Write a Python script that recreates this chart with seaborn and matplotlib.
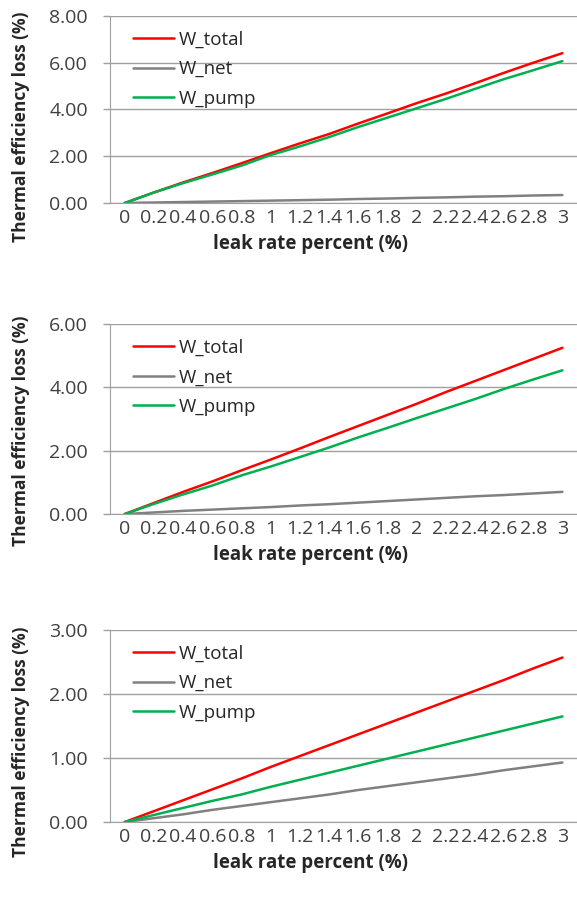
import numpy as np
import pandas as pd
import matplotlib
matplotlib.use("Agg")
import matplotlib.pyplot as plt
import seaborn as sns

leak_rate = ["0", "0.2", "0.4", "0.6", "0.8", "1", "1.2", "1.4", "1.6", "1.8",
             "2", "2.2", "2.4", "2.6", "2.8", "3"]

# panel 1
total_1 = [0, 0.45, 0.88, 1.28, 1.70, 2.13, 2.55, 2.95, 3.40, 3.83, 4.27, 4.68, 5.12, 5.57, 6.00, 6.41]
net_1 = [0, 0.02, 0.04, 0.06, 0.08, 0.10, 0.12, 0.14, 0.17, 0.19, 0.22, 0.24, 0.27, 0.29, 0.32, 0.34]
pump_1 = [0, 0.45, 0.85, 1.22, 1.60, 2.05, 2.42, 2.82, 3.25, 3.65, 4.05, 4.45, 4.88, 5.30, 5.68, 6.07]

# panel 2
total_2 = [0, 0.35, 0.70, 1.03, 1.38, 1.72, 2.07, 2.43, 2.78, 3.13, 3.48, 3.85, 4.20, 4.55, 4.90, 5.25]
net_2 = [0, 0.05, 0.10, 0.14, 0.18, 0.22, 0.27, 0.31, 0.36, 0.41, 0.46, 0.51, 0.56, 0.60, 0.65, 0.70]
pump_2 = [0, 0.32, 0.62, 0.90, 1.22, 1.50, 1.80, 2.10, 2.42, 2.72, 3.03, 3.33, 3.63, 3.95, 4.25, 4.54]

# panel 3
total_3 = [0, 0.17, 0.34, 0.51, 0.68, 0.86, 1.03, 1.20, 1.37, 1.54, 1.71, 1.88, 2.05, 2.22, 2.40, 2.57]
net_3 = [0, 0.06, 0.12, 0.19, 0.25, 0.31, 0.37, 0.43, 0.50, 0.56, 0.62, 0.68, 0.74, 0.81, 0.87, 0.93]
pump_3 = [0, 0.11, 0.22, 0.33, 0.43, 0.55, 0.66, 0.77, 0.88, 0.99, 1.10, 1.21, 1.32, 1.43, 1.54, 1.65]

panels = [
    (total_1, net_1, pump_1, [0, 2, 4, 6, 8]),
    (total_2, net_2, pump_2, [0, 2, 4, 6]),
    (total_3, net_3, pump_3, [0, 1, 2, 3]),
]

series_names = ["W_total", "W_net", "W_pump"]
palette = {"W_total": "#FF0000", "W_net": "#808080", "W_pump": "#00B050"}

sns.set_style("white")
plt.rcParams['font.family'] = ['Open Sans', 'DejaVu Sans']

fig = plt.figure(figsize=(5.77, 9.09), dpi=100)

# [left, bottom, width, height] in figure fraction, plus y position of the y label
boxes = [
    ([0.191, 0.7767, 0.809, 0.2057], 0.41),
    ([0.191, 0.4345, 0.809, 0.2090], 0.44),
    ([0.191, 0.0957, 0.809, 0.2112], 0.42),
]

for (box, ylab_y), (tot, net, pump, yticks) in zip(boxes, panels):
    ax = fig.add_axes(box)
    df = pd.DataFrame({
        "x": list(range(len(leak_rate))) * 3,
        "value": tot + net + pump,
        "series": [s for s in series_names for _ in leak_rate],
    })
    sns.lineplot(data=df, x="x", y="value", hue="series", palette=palette,
                 hue_order=series_names, linewidth=1.8, ax=ax)
    ax.set_xlim(-0.5, len(leak_rate) - 0.5)
    ax.set_ylim(yticks[0], yticks[-1])
    ax.set_yticks(yticks)
    ax.set_yticklabels([f"{t:.2f}" for t in yticks], fontsize=14, color='#404040')
    ax.set_xticks(range(len(leak_rate)))
    ax.set_xticklabels(leak_rate, fontsize=14, color='#404040')
    ax.tick_params(axis='x', length=0, pad=4)
    ax.tick_params(axis='y', length=5, color='#A0A0A0', width=1, pad=11, direction='out', left=True)
    ax.grid(axis='y', color='#A0A0A0', linewidth=1)
    ax.set_axisbelow(True)
    for side in ['top', 'right']:
        ax.spines[side].set_visible(False)
    ax.spines['left'].set_color('#A0A0A0')
    ax.spines['bottom'].set_color('#A0A0A0')
    ax.set_xlabel("leak rate percent (%)", fontsize=13.5, fontweight='bold')
    ax.set_ylabel("Thermal efficiency loss (%)", fontsize=12.5, fontweight='bold')
    ax.xaxis.set_label_coords(0.43, -0.165 * 0.2057 / box[3])
    ax.yaxis.set_label_coords(-0.172, ylab_y)
    ax.legend(loc='upper left', frameon=False, fontsize=13.5, handlelength=2.2,
              handletextpad=0.25, labelspacing=0.62, borderaxespad=0.38,
              bbox_to_anchor=(0.018, 1.0), title=None)

fig.savefig("out.png", dpi=100)
